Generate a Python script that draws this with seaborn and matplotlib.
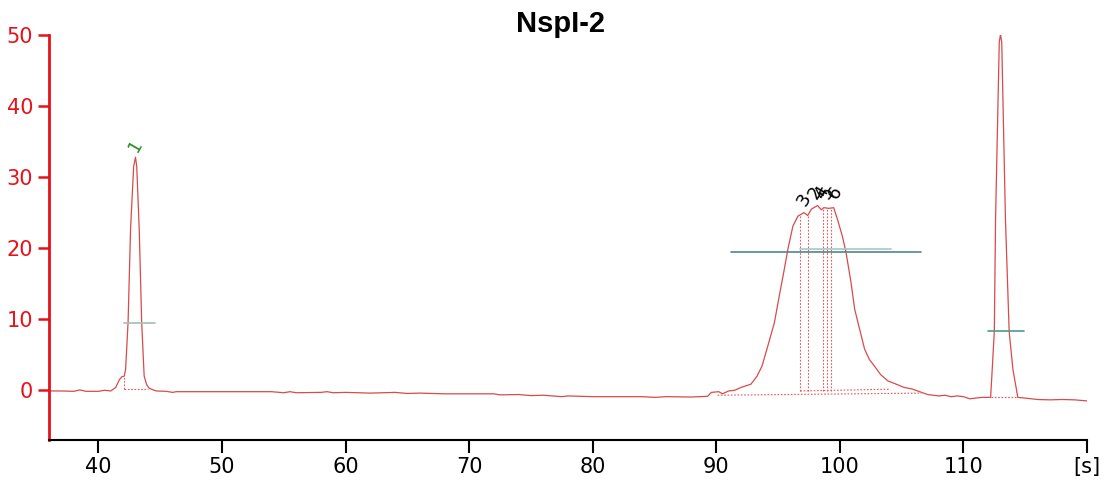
import numpy as np
import pandas as pd
import matplotlib
matplotlib.use("Agg")
import matplotlib.pyplot as plt
import seaborn as sns

# ---- data ----
time_s = [36.0, 37.0, 38.0, 38.5, 39.0, 40.0, 40.5, 41.0, 41.4, 41.7, 41.9, 42.1, 42.2, 42.4, 42.6,
          42.85, 43.0, 43.1, 43.3, 43.5, 43.7, 43.9, 44.1, 44.5, 44.7, 45.5, 46.0, 46.3, 47.0, 48.0,
          50.0, 52.0, 54.0, 55.0, 55.5, 56.0, 58.0, 58.5, 59.0, 60.0, 62.0, 64.0, 65.0, 66.0, 68.0,
          70.0, 72.0, 72.5, 74.0, 75.0, 76.0, 77.5, 78.0, 80.0, 82.0, 84.0, 85.0, 86.0, 88.0, 89.3,
          89.6, 90.2, 90.5, 91.0, 91.5, 92.0, 92.8, 93.3, 93.7, 94.1, 94.7, 95.1, 95.5, 95.8, 96.2,
          96.6, 97.1, 97.4, 97.7, 98.2, 98.5, 98.7, 99.1, 99.5, 99.8, 100.2, 100.5, 100.9, 101.2,
          101.6, 102.0, 102.4, 102.8, 103.3, 103.9, 104.5, 105.2, 105.8, 106.3, 107.1, 108.0, 108.5,
          109.0, 109.5, 110.0, 110.5, 111.0, 111.5, 112.2, 112.3, 112.5, 112.6, 112.9, 113.0, 113.1,
          113.4, 113.7, 114.0, 114.4, 115.0, 116.0, 117.0, 118.0, 119.0, 120.0]
signal = [-0.1, -0.1, -0.15, 0.05, -0.15, -0.15, 0.0, -0.1, 0.4, 1.5, 1.9, 2.0, 3.0, 9.6, 22.7,
          31.5, 32.8, 31.5, 22.7, 9.6, 2.0, 0.8, 0.3, 0.0, -0.1, -0.15, -0.3, -0.2, -0.2, -0.2,
          -0.2, -0.2, -0.2, -0.35, -0.2, -0.35, -0.3, -0.2, -0.35, -0.3, -0.4, -0.3, -0.45, -0.4, -0.5,
          -0.5, -0.5, -0.65, -0.6, -0.75, -0.7, -0.9, -0.8, -0.9, -0.9, -0.9, -1.0, -0.9, -0.95, -0.85,
          -0.3, -0.2, -0.5, -0.1, 0.0, 0.4, 0.85, 2.0, 3.4, 5.8, 9.5, 13.3, 17.0, 19.9, 23.1,
          24.5, 25.0, 24.6, 25.5, 26.0, 25.4, 25.7, 25.6, 25.7, 24.1, 21.7, 19.4, 15.2, 11.4,
          8.6, 5.8, 4.3, 3.4, 2.2, 1.3, 0.9, 0.4, 0.2, -0.1, -0.6, -0.8, -0.7,
          -0.9, -0.8, -0.9, -1.2, -1.1, -1.0, -1.0, 2.0, 8.3, 24.1, 49.0, 50.1, 49.0,
          24.1, 8.3, 3.0, -1.0, -1.1, -1.3, -1.35, -1.3, -1.35, -1.5]

x_ticks = [40, 50, 60, 70, 80, 90, 100, 110, 120]
x_tick_labels = ["40", "50", "60", "70", "80", "90", "100", "110", "[s]"]
y_ticks = [0, 10, 20, 30, 40, 50]

# peak annotations
peak_labels = ["1", "3", "2", "4", "5", "6"]
peak_label_x = [43.0, 97.1, 98.0, 98.5, 99.0, 99.6]
peak_label_y = [34.5, 26.9, 27.8, 27.8, 27.8, 27.8]
peak_label_colors = ["#2a8a2a", "black", "black", "black", "black", "black"]

split_x = [96.8, 97.4, 98.6, 99.0, 99.3]          # dotted drop lines in broad peak
width_lines = [  # (x_start, x_end, level, color)
    (42.1, 44.6, 9.4, "#9fbfbd"),
    (91.2, 106.6, 19.4, "#4e8787"),
    (96.8, 104.1, 19.9, "#a9c6c6"),
    (112.0, 114.9, 8.3, "#4f9a8f"),
]
baseline_segments = [  # ((x0, y0), (x1, y1))
    ((42.1, 0.15), (44.0, 0.15)),
    ((90.1, -0.7), (106.6, -0.4)),
    ((96.8, -0.1), (104.1, 0.15)),
    ((112.2, -1.0), (114.4, -1.0)),
]

df = pd.DataFrame({"time": time_s, "signal": signal})

sns.set_style("white")
plt.rcParams["font.family"] = ["DejaVu Sans"]

fig = plt.figure(figsize=(11.07, 4.87), dpi=100)
ax = fig.add_axes([49 / 1107, 47 / 487, (1087 - 49) / 1107, (440 - 35) / 487])

trace_color = "#d94a4a"
sns.lineplot(data=df, x="time", y="signal", ax=ax, color=trace_color, linewidth=0.9,
             estimator=None, sort=False)

# dotted integration marks
dot = dict(color="#e05a5a", linestyle=(0, (1.5, 1.5)), linewidth=0.8)
ax.plot([42.1, 42.1], [0.15, 2.0], **dot)
for sx in split_x:
    top = np.interp(sx, time_s, signal)
    ax.plot([sx, sx], [-0.1, top], **dot)
for (x0, y0), (x1, y1) in baseline_segments:
    ax.plot([x0, x1], [y0, y1], **dot)

for x0, x1, lev, col in width_lines:
    ax.plot([x0, x1], [lev, lev], color=col, linewidth=1.2)

for lab, lx, ly, lc in zip(peak_labels, peak_label_x, peak_label_y, peak_label_colors):
    ax.text(lx, ly, lab, color=lc, rotation=60, fontsize=13, ha="center", va="center")

ax.set_xlim(36, 120)
ax.set_ylim(-7, 50)
ax.set_xticks(x_ticks)
ax.set_xticklabels(x_tick_labels)
ax.set_yticks(y_ticks)
ax.set_xlabel("")
ax.set_ylabel("")

red = "#e8111a"
for s in ["top", "right"]:
    ax.spines[s].set_visible(False)
ax.spines["left"].set_color(red)
ax.spines["left"].set_linewidth(2)
ax.spines["bottom"].set_color("black")
ax.spines["bottom"].set_linewidth(1.5)
ax.tick_params(axis="y", colors=red, labelcolor=red, direction="out", length=8, width=1.8,
               labelsize=15, left=True)
ax.tick_params(axis="x", colors="black", labelcolor="black", direction="out", length=9,
               width=1.5, labelsize=15, bottom=True)
ax.grid(False)

fig.text(561 / 1107, 1 - 24 / 487, "NspI-2", ha="center", va="center", fontsize=21,
         fontweight="bold", color="black", family=["Liberation Sans", "DejaVu Sans"])

fig.savefig("out.png", dpi=100)
